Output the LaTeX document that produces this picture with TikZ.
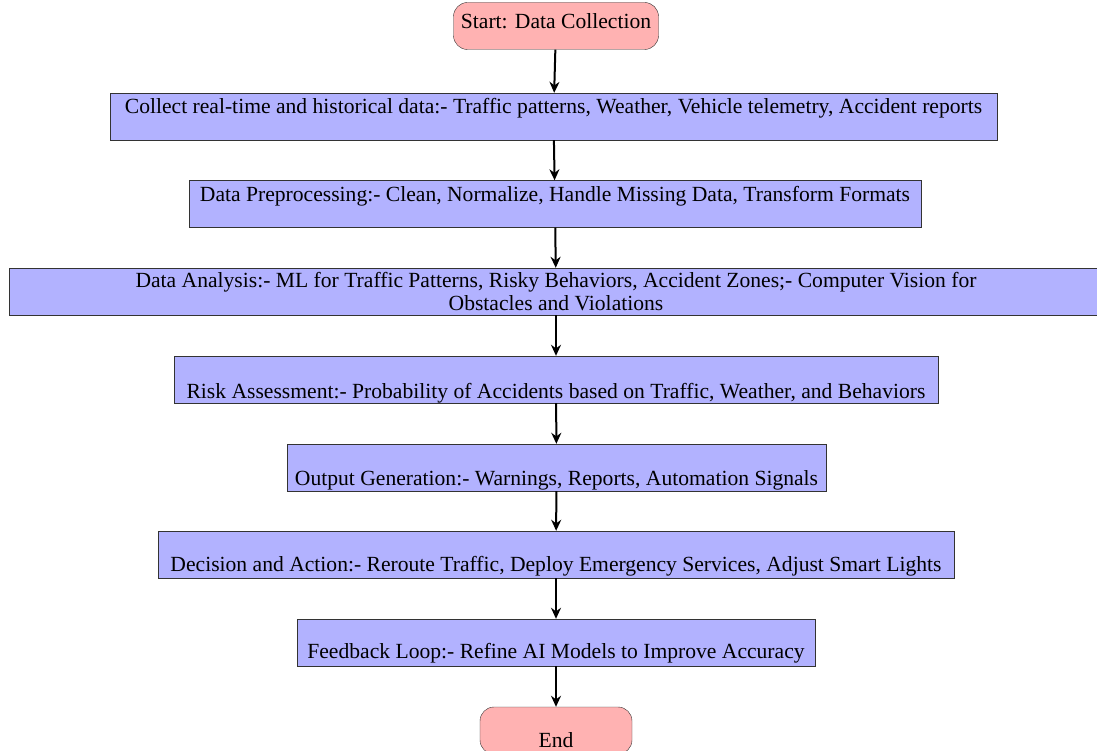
\documentclass[tikz,border=0pt]{standalone}
\usepackage{fontspec}
\setmainfont{Liberation Serif}
\usetikzlibrary{arrows.meta}

\begin{document}
\begin{tikzpicture}[x=1pt,y=-1pt,
    term/.style={draw=black!80,fill=red!30,rounded corners=14pt,minimum height=47pt,align=center,inner sep=0pt},
    proc/.style={draw=black!80,fill=blue!30,minimum height=47pt,align=center,inner sep=0pt},
    flow/.style={-{Stealth[length=11pt,width=10pt]},line width=2pt}]
    \useasboundingbox (0,0) rectangle (1097,751);
    \fontsize{21.6}{23}\selectfont
    \node[term,minimum width=205pt,text depth=9pt] (start) at (556,26) {Start: Data Collection};
    \node[proc,minimum width=887pt] (collect) at (553.5,116.5) {Collect real-time and historical data:- Traffic patterns, Weather, Vehicle telemetry, Accident reports\\[-9pt]\strut};
    \node[proc,minimum width=732pt] (prep) at (555,204) {Data Preprocessing:- Clean, Normalize, Handle Missing Data, Transform Formats\\[-9pt]\strut};
    \node[proc,minimum width=1094pt] (analysis) at (556,291.5) {Data Analysis:- ML for Traffic Patterns, Risky Behaviors, Accident Zones;- Computer Vision for\\Obstacles and Violations};
    \node[proc,minimum width=764pt] (risk) at (556,379.5) {\strut\\[3pt]Risk Assessment:- Probability of Accidents based on Traffic, Weather, and Behaviors};
    \node[proc,minimum width=539pt] (output) at (556.5,467.5) {\strut\\[2pt]Output Generation:- Warnings, Reports, Automation Signals};
    \node[proc,minimum width=796pt] (decision) at (556,554.5) {\strut\\Decision and Action:- Reroute Traffic, Deploy Emergency Services, Adjust Smart Lights};
    \node[proc,minimum width=518pt] (feedback) at (556,642.5) {\strut\\[-2pt]Feedback Loop:- Refine AI Models to Improve Accuracy};
    \node[term,minimum width=152pt] (end) at (556,730.5) {\strut\\[-5pt]End};
    \draw[flow] (start) -- (collect);
    \draw[flow] (collect) -- (prep);
    \draw[flow] (prep) -- (analysis);
    \draw[flow] (analysis) -- (risk);
    \draw[flow] (risk) -- (output);
    \draw[flow] (output) -- (decision);
    \draw[flow] (decision) -- (feedback);
    \draw[flow] (feedback) -- (end);
\end{tikzpicture}
\end{document}
